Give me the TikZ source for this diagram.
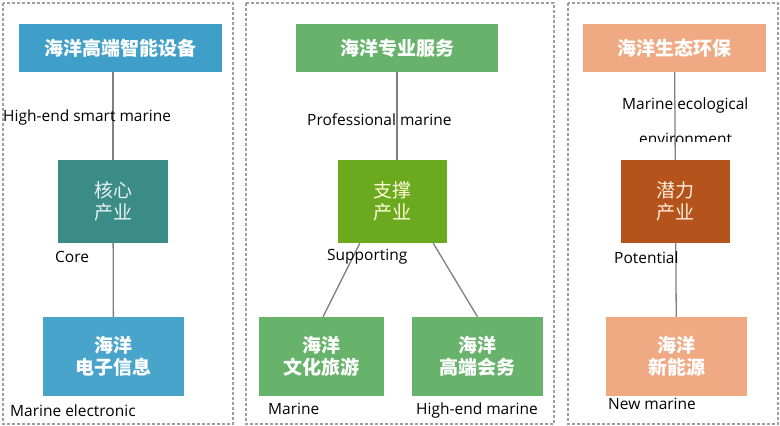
\documentclass[tikz,border=0pt]{standalone}
\usepackage{fontspec}
\setmainfont{Open Sans}
\newfontfamily\cjk{Noto Sans CJK SC}
\usetikzlibrary{positioning}
\definecolor{coreblue}{HTML}{3F9FC9}
\definecolor{coreteal}{HTML}{3B8C87}
\definecolor{servgreen}{HTML}{68B36B}
\definecolor{suppgreen}{HTML}{6BAA1F}
\definecolor{ecosalmon}{HTML}{EFA983}
\definecolor{potbrown}{HTML}{B4541C}
\tikzstyle{top}=[inner sep=0pt,minimum height=48pt,text=white,font=\cjk\bfseries\fontsize{19}{22}\selectfont]
\tikzstyle{hub}=[inner sep=0pt,minimum width=109pt,minimum height=83pt,align=center,font=\cjk\fontsize{19}{22}\selectfont]
\tikzstyle{leaf}=[inner sep=0pt,minimum height=79pt,align=center,text=white,font=\cjk\bfseries\fontsize{19}{21.5}\selectfont]
\tikzstyle{lbl}=[anchor=base west,inner sep=0pt,font=\fontsize{15.5}{17}\selectfont]
\tikzstyle{frame}=[draw=gray!75,line width=1.2pt,dash pattern=on 3pt off 2pt]
\tikzstyle{link}=[draw=gray,line width=1.3pt]

\begin{document}
\begin{tikzpicture}[x=1pt,y=-1pt]
    \useasboundingbox (0,0) rectangle (780,426);
    % three groups
    \draw[frame] (3,3) rectangle (233,424);
    \draw[frame] (246,3) rectangle (554,424);
    \draw[frame] (568,3) rectangle (778,424);

    % core industry
    \node [top,fill=coreblue,minimum width=203pt] (t1) at (120.5,48) {海洋高端智能设备};
    \node [hub,fill=coreteal,text=white!88!coreteal,minimum width=110pt] (c1) at (113,201.5) {核心\\产业};
    \node [leaf,fill=coreblue!95!white,minimum width=141pt] (b1) at (113.5,356.5) {海洋\\电子信息};
    \draw[link] (c1.north) -- (c1.north |- t1.south);
    \draw[link] (c1) -- (b1);

    % supporting industry
    \node [top,fill=servgreen,minimum width=202pt] (t2) at (397,48) {海洋专业服务};
    \node [hub,fill=suppgreen,text=white!85!yellow] (s2) at (392.5,201.5) {支撑\\产业};
    \node [leaf,fill=servgreen,minimum width=125pt] (bl) at (321.5,356.5) {海洋\\文化旅游};
    \node [leaf,fill=servgreen,minimum width=131pt] (br) at (477.5,356.5) {海洋\\高端会务};
    \draw[link] (t2.south) -- (t2.south |- s2.north);
    \draw[link] ([xshift=22pt]s2.south west) -- ([xshift=1.5pt]bl.north);
    \draw[link] ([xshift=-14pt]s2.south east) -- (br.north);

    % potential industry
    \node [top,fill=ecosalmon,minimum width=183pt] (t3) at (674.5,48) {海洋生态环保};
    \node [hub,fill=potbrown,text=white!85!orange] (p3) at (675.5,201.5) {潜力\\产业};
    \node [leaf,fill=ecosalmon,minimum width=141pt] (b3) at (676.5,356.5) {海洋\\新能源};
    \draw[link] (t3) -- (p3);
    \draw[link] (p3) -- (b3);

    % english labels
    \node [lbl] (l1) at (3,121) {High-end smart marine};
    \node [lbl] (l2) at (55,262) {Core};
    \node [lbl] (l3) at (10,416) {Marine electronic};
    \node [lbl] (l4) at (307,125) {Professional marine};
    \node [lbl] (l5) at (327,260) {Supporting};
    \node [lbl] (l6) at (268,414) {Marine};
    \node [lbl] (l7) at (416,414) {High-end marine};
    \node [lbl] (l8) at (622,109) {Marine ecological};
    \begin{scope}
        \clip (600,125) rectangle (760,141.5);
        \node [lbl] (l9) at (639,144) {environment};
    \end{scope}
    \node [lbl] (l10) at (614,263) {Potential};
    \node [lbl] (l11) at (608,409) {New marine};
\end{tikzpicture}
\end{document}
